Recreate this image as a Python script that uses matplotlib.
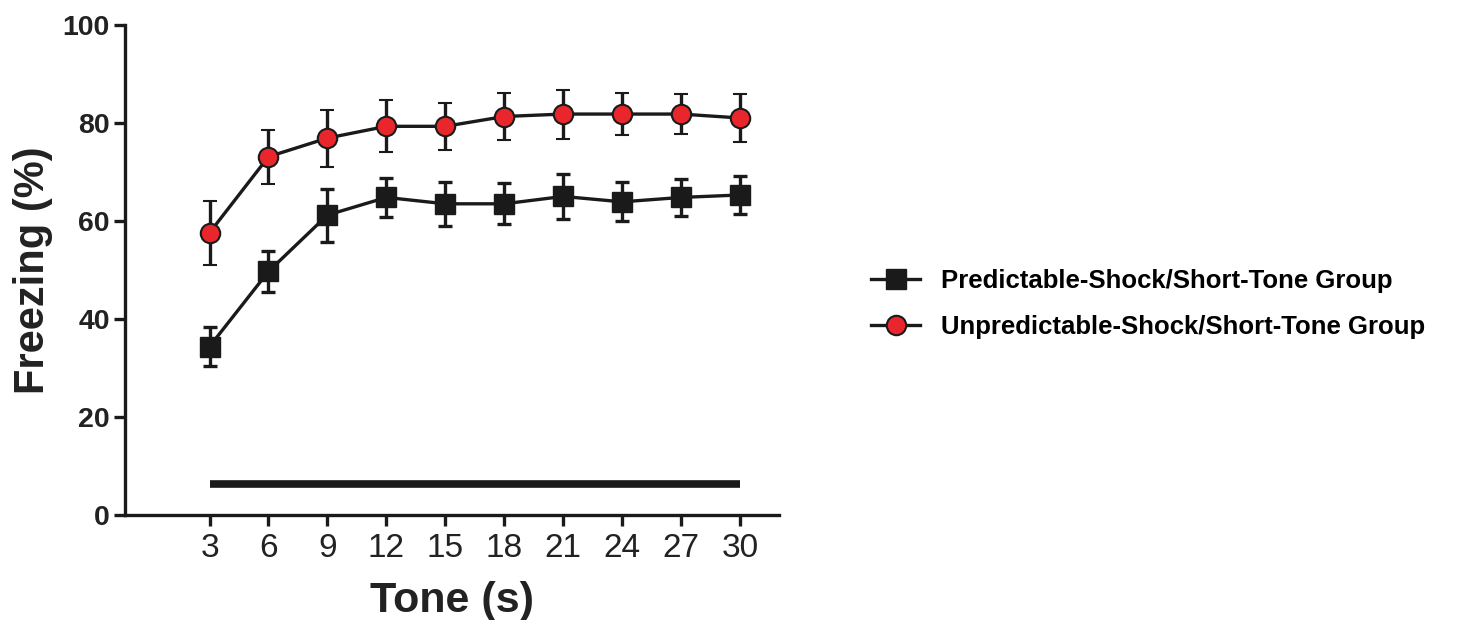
import matplotlib
matplotlib.use("Agg")
import matplotlib.pyplot as plt
from matplotlib.lines import Line2D

tone = [3, 6, 9, 12, 15, 18, 21, 24, 27, 30]
pred_mean = [34.4, 49.7, 61.2, 64.8, 63.5, 63.5, 65.0, 63.9, 64.8, 65.3]
pred_sem = [3.9, 4.2, 5.4, 4.0, 4.5, 4.2, 4.5, 4.0, 3.7, 3.9]
unpred_mean = [57.6, 73.1, 76.9, 79.3, 79.3, 81.3, 81.8, 81.8, 81.8, 81.0]
unpred_sem = [6.5, 5.5, 5.8, 5.3, 4.8, 4.7, 5.0, 4.3, 4.0, 4.9]
tone_bar = [3, 30]
tone_bar_level = 6.3
labels = ["Predictable-Shock/Short-Tone Group",
          "Unpredictable-Shock/Short-Tone Group"]

plt.rcParams['font.family'] = ['Liberation Sans', 'DejaVu Sans']
INK = '#1a1a1a'
RED = '#e8262c'

fig = plt.figure(figsize=(14.8, 6.2), dpi=100)
ax = fig.add_axes([0.0845, 0.169, 0.442, 0.791])

ax.errorbar(tone, pred_mean, yerr=pred_sem, color=INK, marker='s',
            markersize=15, linewidth=2.4, elinewidth=2.4, capsize=5, capthick=2.4,
            markerfacecolor=INK, markeredgecolor=INK)
ax.errorbar(tone, unpred_mean, yerr=unpred_sem, color=INK, marker='o',
            markersize=14, linewidth=2.4, elinewidth=2.4, capsize=5, capthick=2.4,
            markerfacecolor=RED, markeredgecolor=INK, markeredgewidth=1.5)
ax.plot(tone_bar, [tone_bar_level, tone_bar_level], color=INK, linewidth=5.5,
        solid_capstyle='butt')

ax.set_xlim(-1.3, 32)
ax.set_ylim(0, 100)
ax.set_xticks(tone)
ax.set_yticks([0, 20, 40, 60, 80, 100])
for s in ['top', 'right']:
    ax.spines[s].set_visible(False)
for s in ['left', 'bottom']:
    ax.spines[s].set_linewidth(2.4)
    ax.spines[s].set_color(INK)
ax.tick_params(axis='both', direction='out', length=8, width=2.4, color=INK)
ax.tick_params(axis='y', pad=3)
ax.tick_params(axis='x', pad=5)
for t in ax.get_yticklabels():
    t.set_fontsize(20.5); t.set_fontweight('bold'); t.set_color('#222222')
for t in ax.get_xticklabels():
    t.set_fontsize(24); t.set_color('#222222')

ax.set_xlabel("Tone (s)", fontsize=31, fontweight='bold', color='#222222', labelpad=12)
ax.set_ylabel("Freezing (%)", fontsize=30, fontweight='bold', color='#222222', labelpad=7)

handles = [
    Line2D([], [], color=INK, linewidth=2.4, marker='s', markersize=15,
           markerfacecolor=INK, markeredgecolor=INK),
    Line2D([], [], color=INK, linewidth=2.4, marker='o', markersize=14,
           markerfacecolor=RED, markeredgecolor=INK, markeredgewidth=1.5),
]
fig.legend(handles, labels, loc='upper left', bbox_to_anchor=(0.573, 0.603),
           frameon=False, prop={'weight': 'bold', 'size': 18.5}, handlelength=1.9,
           labelspacing=0.85, handletextpad=0.8, numpoints=1)

fig.savefig("out.png", dpi=100)
